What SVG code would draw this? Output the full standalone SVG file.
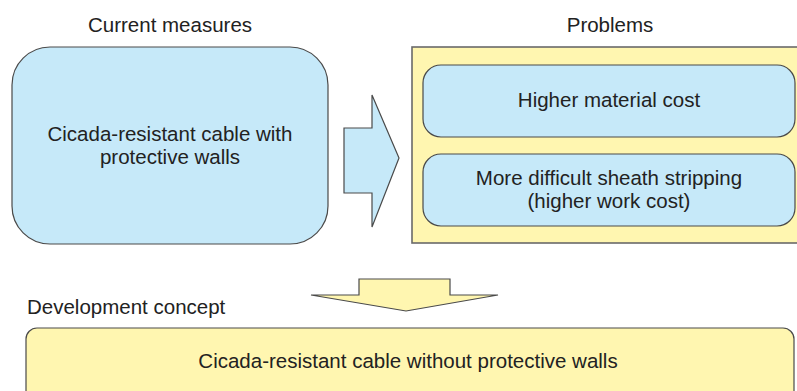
<svg xmlns="http://www.w3.org/2000/svg" width="797" height="391" viewBox="0 0 797 391">
  <style>
    .blue { fill: #c6e9f9; stroke: #4a4a4a; stroke-width: 1.2; }
    .yellow { fill: #fff6b0; stroke: #4a4a4a; stroke-width: 1.2; }
    .panel { fill: #fff6b0; stroke: #6a6a6a; stroke-width: 1.6; }
    text { font-family: "Liberation Sans", Arial, sans-serif; font-size: 20.5px; fill: #222; }
    .mid { text-anchor: middle; }
  </style>
  <rect width="797" height="391" fill="#ffffff"/>

  <!-- section headings -->
  <text class="mid" x="170" y="32">Current measures</text>
  <text class="mid" x="610" y="32">Problems</text>
  <text x="27" y="314">Development concept</text>

  <g id="current-measures">
    <rect class="blue" x="12" y="47" width="316" height="197" rx="38" ry="38"/>
    <text class="mid" x="170" y="141">Cicada-resistant cable with</text>
    <text class="mid" x="170" y="164">protective walls</text>
  </g>

  <g id="problems">
    <rect class="panel" x="412" y="47" width="400" height="196"/>
    <g id="material-cost">
      <rect class="blue" x="423" y="65" width="372" height="72" rx="18" ry="18"/>
      <text class="mid" x="609" y="107">Higher material cost</text>
    </g>
    <g id="sheath-stripping">
      <rect class="blue" x="423" y="154" width="372" height="72" rx="18" ry="18"/>
      <text class="mid" x="609" y="185">More difficult sheath stripping</text>
      <text class="mid" x="609" y="208">(higher work cost)</text>
    </g>
  </g>

  <g id="development-concept">
    <rect class="yellow" x="26" y="328" width="768" height="80" rx="11" ry="11"/>
    <text class="mid" x="408" y="368">Cicada-resistant cable without protective walls</text>
  </g>

  <g id="connectors">
    <!-- block arrow: measures to problems -->
    <path class="blue" d="M344,128 L372,128 L372,95 L399,158 L372,227 L372,193 L344,193 Z"/>
    <!-- block arrow: problems to development concept -->
    <path class="yellow" d="M359,279 L450,279 L450,295 L498,295 L406,311 L311,295 L359,295 Z"/>
  </g>
</svg>
